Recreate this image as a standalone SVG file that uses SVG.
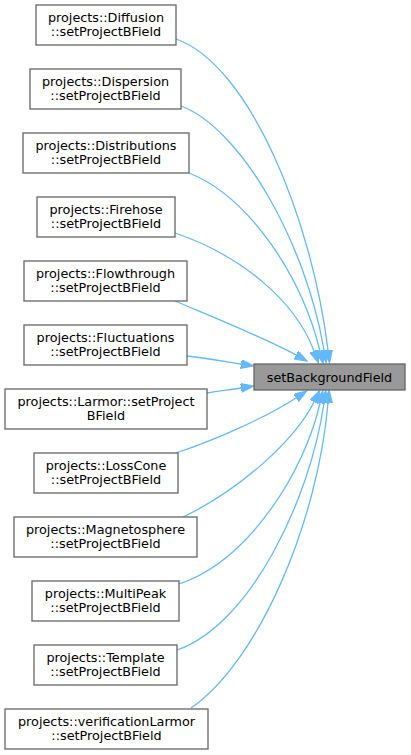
<svg xmlns="http://www.w3.org/2000/svg" width="411" height="755" viewBox="0 0 411 755">
<defs>
<style>
.n rect{fill:#ffffff;stroke:#666666;stroke-width:1.3}
.t rect{fill:#999999;stroke:#666666;stroke-width:1.3}
text{font-family:"DejaVu Sans","Liberation Sans",sans-serif;font-size:12.8px;fill:#000000;text-anchor:middle}
.e path{fill:none;stroke:#63b8ff;stroke-width:1.3}
</style>
<marker id="ah" markerWidth="14" markerHeight="10" refX="0" refY="4.5" orient="auto" markerUnits="userSpaceOnUse">
<path d="M0,0 L13,4.5 L0,9 z" fill="#63b8ff" stroke="#63b8ff" stroke-width="1"/>
</marker>
</defs>
<rect width="411" height="755" fill="#ffffff"/>
<g id="edges" class="e">
<path marker-end="url(#ah)" d="M176,39 C250,65 312,220 328,350"/>
<path marker-end="url(#ah)" d="M181,106 C240,128 305,240 324,350"/>
<path marker-end="url(#ah)" d="M189,173 C245,195 300,270 320,351"/>
<path marker-end="url(#ah)" d="M175,233 C240,255 295,300 314,351"/>
<path marker-end="url(#ah)" d="M175,301 C215,318 265,338 296,355"/>
<path marker-end="url(#ah)" d="M187,356 C205,358 222,361 241,364"/>
<path marker-end="url(#ah)" d="M207,393 C218,391 228,390 241,388"/>
<path marker-end="url(#ah)" d="M176,453 C215,440 265,418 296,398"/>
<path marker-end="url(#ah)" d="M183,517 C240,490 295,440 314,402"/>
<path marker-end="url(#ah)" d="M179,584 C250,560 305,470 320,403"/>
<path marker-end="url(#ah)" d="M177,650 C250,625 310,500 324,403"/>
<path marker-end="url(#ah)" d="M191,708 C260,660 318,520 328,403"/>
</g>
<g id="target" class="t"><rect x="254" y="364" width="151" height="26"/><text x="329.5" y="381.5">setBackgroundField</text></g>
<g id="diffusion" class="n"><rect x="36" y="5" width="140" height="40"/><text x="106" y="21.5">projects::Diffusion</text><text x="106" y="36">::setProjectBField</text></g>
<g id="dispersion" class="n"><rect x="30" y="69" width="151" height="40"/><text x="105.5" y="85.5">projects::Dispersion</text><text x="105.5" y="100">::setProjectBField</text></g>
<g id="distributions" class="n"><rect x="23" y="133" width="166" height="40"/><text x="106" y="149.5">projects::Distributions</text><text x="106" y="164">::setProjectBField</text></g>
<g id="firehose" class="n"><rect x="37" y="197" width="138" height="40"/><text x="106" y="213.5">projects::Firehose</text><text x="106" y="228">::setProjectBField</text></g>
<g id="flowthrough" class="n"><rect x="24" y="261" width="163" height="40"/><text x="105.5" y="277.5">projects::Flowthrough</text><text x="105.5" y="292">::setProjectBField</text></g>
<g id="fluctuations" class="n"><rect x="24" y="325" width="163" height="40"/><text x="105.5" y="341.5">projects::Fluctuations</text><text x="105.5" y="356">::setProjectBField</text></g>
<g id="larmor" class="n"><rect x="5" y="389" width="202" height="40"/><text x="106" y="405.5">projects::Larmor::setProject</text><text x="106" y="420">BField</text></g>
<g id="losscone" class="n"><rect x="34" y="453" width="144" height="40"/><text x="106" y="469.5">projects::LossCone</text><text x="106" y="484">::setProjectBField</text></g>
<g id="magnetosphere" class="n"><rect x="14" y="517" width="183" height="40"/><text x="105.5" y="533.5">projects::Magnetosphere</text><text x="105.5" y="548">::setProjectBField</text></g>
<g id="multipeak" class="n"><rect x="32" y="581" width="147" height="40"/><text x="105.5" y="597.5">projects::MultiPeak</text><text x="105.5" y="612">::setProjectBField</text></g>
<g id="template" class="n"><rect x="34" y="645" width="143" height="40"/><text x="105.5" y="661.5">projects::Template</text><text x="105.5" y="676">::setProjectBField</text></g>
<g id="verificationlarmor" class="n"><rect x="5" y="709" width="203" height="40"/><text x="106.5" y="725.5">projects::verificationLarmor</text><text x="106.5" y="740">::setProjectBField</text></g>
</svg>
